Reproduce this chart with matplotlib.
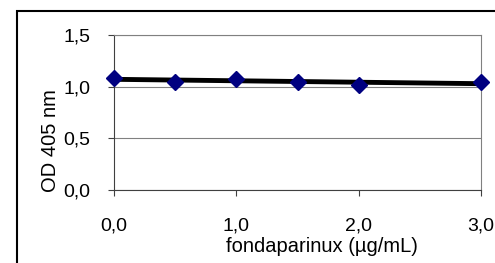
import numpy as np
import matplotlib
matplotlib.use("Agg")
import matplotlib.pyplot as plt
from matplotlib.patches import Rectangle

# data
conc = [0.0, 0.5, 1.0, 1.5, 2.0, 3.0]
od405 = [1.085, 1.045, 1.075, 1.048, 1.016, 1.045]
xticks = [0, 1, 2, 3]
xlabels = ["0,0", "1,0", "2,0", "3,0"]
yticks = [0.0, 0.5, 1.0, 1.5]
ylabels = ["0,0", "0,5", "1,0", "1,5"]

plt.rcParams["font.family"] = ["Liberation Sans", "DejaVu Sans"]

W, H = 495, 263
fig = plt.figure(figsize=(W / 100, H / 100), dpi=100)

# outer chart frame (cut off at right and bottom)
fig.patches.append(Rectangle((17 / W, -0.1), 2, (H - 11) / H + 0.1,
                             transform=fig.transFigure, fill=False,
                             edgecolor="black", linewidth=1.5))

ax = fig.add_axes([114 / W, (H - 190) / H, (481 - 114) / W, (190 - 35) / H])

# linear trend line
slope, icpt = np.polyfit(conc, od405, 1)
xs = np.array([min(conc), max(conc)])
ax.plot(xs, slope * xs + icpt, color="black", linewidth=3.5, zorder=3)

ax.plot(conc, od405, linestyle="none", marker="D", markersize=8.5,
        color="#000080", zorder=4, clip_on=False)

ax.set_xlim(0, 3)
ax.set_ylim(0, 1.5)
ax.set_xticks(xticks)
ax.set_xticklabels(xlabels)
ax.set_yticks(yticks)
ax.set_yticklabels(ylabels)
ax.yaxis.grid(True, color="#808080", linewidth=0.8)
ax.set_axisbelow(True)

for s in ["top", "right"]:
    ax.spines[s].set_color("#808080")
for s in ["left", "bottom"]:
    ax.spines[s].set_color("#404040")
ax.tick_params(axis="x", length=4, pad=15.5, labelsize=14, color="#404040")
ax.tick_params(axis="y", length=4, pad=13, labelsize=14, color="#404040")

ax.set_xlabel("fondaparinux (µg/mL)", fontsize=14.5, va="center")
ax.xaxis.set_label_coords((322 - 114) / (481 - 114), -(246 - 190) / 155)
ax.set_ylabel("OD 405 nm", fontsize=14.5, va="center")
ax.yaxis.set_label_coords(-(114 - 51) / (481 - 114), (190 - 141) / 155)

fig.savefig("out.png", dpi=100)
